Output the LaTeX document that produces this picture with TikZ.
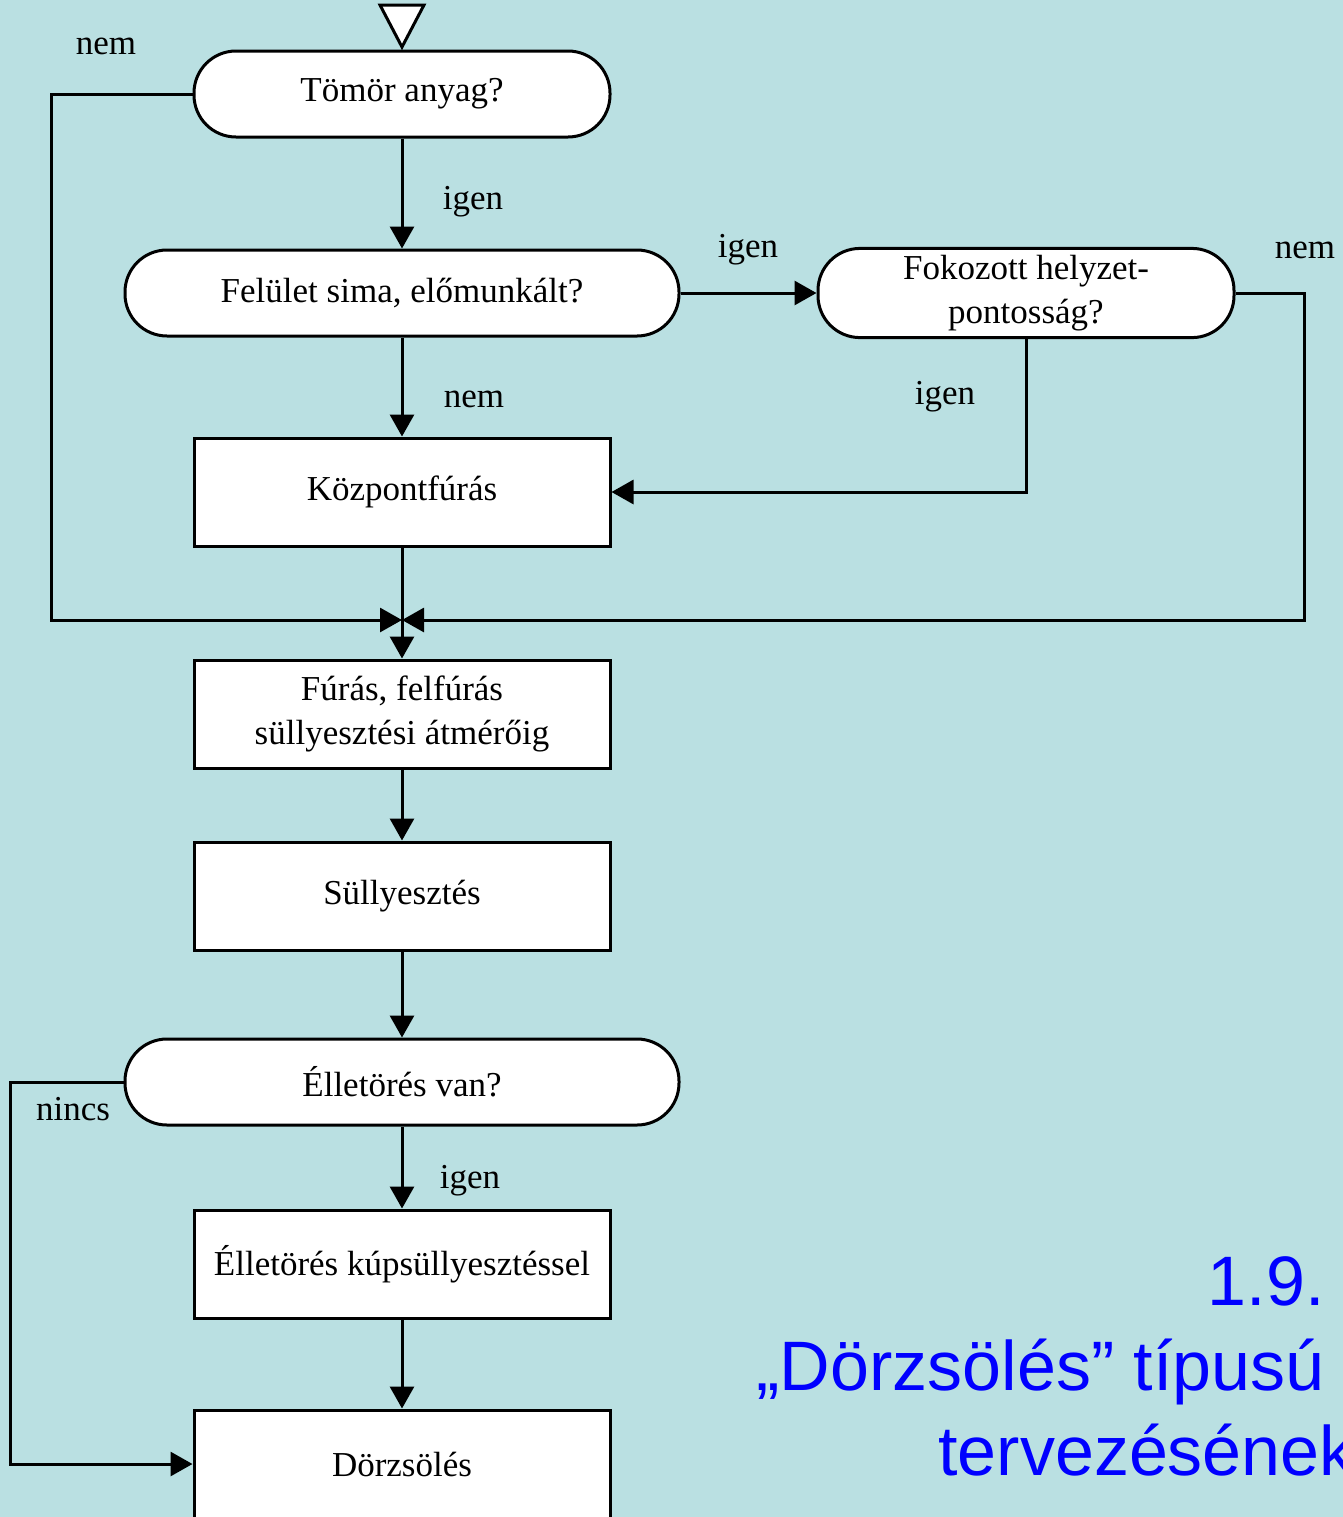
\documentclass[tikz,border=0pt]{standalone}
\usepackage{fontspec}
\setmainfont{Liberation Serif}
\newfontfamily\arialfont{Liberation Sans}
\usetikzlibrary{arrows.meta}
\definecolor{bgcyan}{RGB}{186,224,226}
\definecolor{titleblue}{RGB}{0,0,255}

\begin{document}
\begin{tikzpicture}[x=0.5pt,y=-0.5pt,
    every node/.style={font=\fontsize{17.5}{22}\selectfont},
    decision/.style={draw,fill=white,line width=1.5pt,rounded corners=21pt,minimum height=43pt,align=center},
    process/.style={draw,fill=white,line width=1.5pt,minimum width=208pt,minimum height=54pt,align=center},
    flow/.style={line width=1.5pt,-{Triangle[length=11pt,width=12pt]}},
    plain/.style={line width=1.5pt},
    lbl/.style={inner sep=0pt}]
    % frame
    \useasboundingbox (0,0) rectangle (1343,1517);
    \fill[bgcyan] (0,0) rectangle (1343,1517);

    % start mark
    \draw[fill=white,line width=1.5pt] (380,5) -- (424,5) -- (402,47) -- cycle;

    % steps
    \node[decision,minimum width=208pt] (tomor) at (402,94) {Tömör anyag?};
    \node[decision,minimum width=277pt] (felulet) at (402,293) {Felület sima, előmunkált?};
    \node[decision,minimum width=208pt] (fokozott) at (1026,293) {Fokozott helyzet-\\pontosság?};
    \node[process] (kozpont) at (402,492) {Központfúrás};
    \coordinate (merge) at (402,620);
    \node[process] (furas) at (402,714) {Fúrás, felfúrás\\süllyesztési átmérőig};
    \node[process] (sully) at (402,896) {Süllyesztés};
    \node[decision,minimum width=277pt] (elle) at (402,1082) {Élletörés van?};
    \node[process] (kup) at (402,1264) {Élletörés kúpsüllyesztéssel};
    \node[process] (dorzs) at (402,1464) {Dörzsölés};

    % connectors
    \draw[flow] (tomor) -- (felulet);
    \draw[flow] (felulet) -- (fokozott);
    \draw[flow] (felulet) -- (kozpont);
    \draw[flow] (fokozott.south) |- (kozpont.east);
    \draw[flow] (tomor.west) -- ++(-141,0) |- (merge);
    \draw[flow] (fokozott.east) -- ++(69,0) |- (merge);
    \draw[plain] (kozpont) -- (merge);
    \draw[flow] (merge) -- (furas);
    \draw[flow] (furas) -- (sully);
    \draw[flow] (sully) -- (elle);
    \draw[flow] (elle) -- (kup);
    \draw[flow] (kup) -- (dorzs);
    \draw[flow] (elle.west) -- ++(-113,0) |- (dorzs.west);

    % labels
    \node[lbl] (nemA) at (106,46) {nem};
    \node[lbl] (igenA) at (473,202) {igen};
    \node[lbl] (igenB) at (748,250) {igen};
    \node[lbl] (nemC) at (1305,250) {nem};
    \node[lbl] (nemB) at (474,399) {nem};
    \node[lbl] (igenC) at (945,397) {igen};
    \node[lbl] (nincs) at (73,1109) {nincs};
    \node[lbl] (igenE) at (470,1181) {igen};

    % title
    \begin{scope}[every node/.style={text=titleblue,inner sep=0pt,font=\arialfont\fontsize{35}{40}\selectfont}]
        \node[anchor=base east] (cimA) at (1325,1305) {1.9.};
        \node[anchor=base east] (cimB) at (1325,1390) {„Dörzsölés” típusú};
        \node[anchor=base west] (cimC) at (938,1475) {tervezésének};
    \end{scope}
\end{tikzpicture}
\end{document}
